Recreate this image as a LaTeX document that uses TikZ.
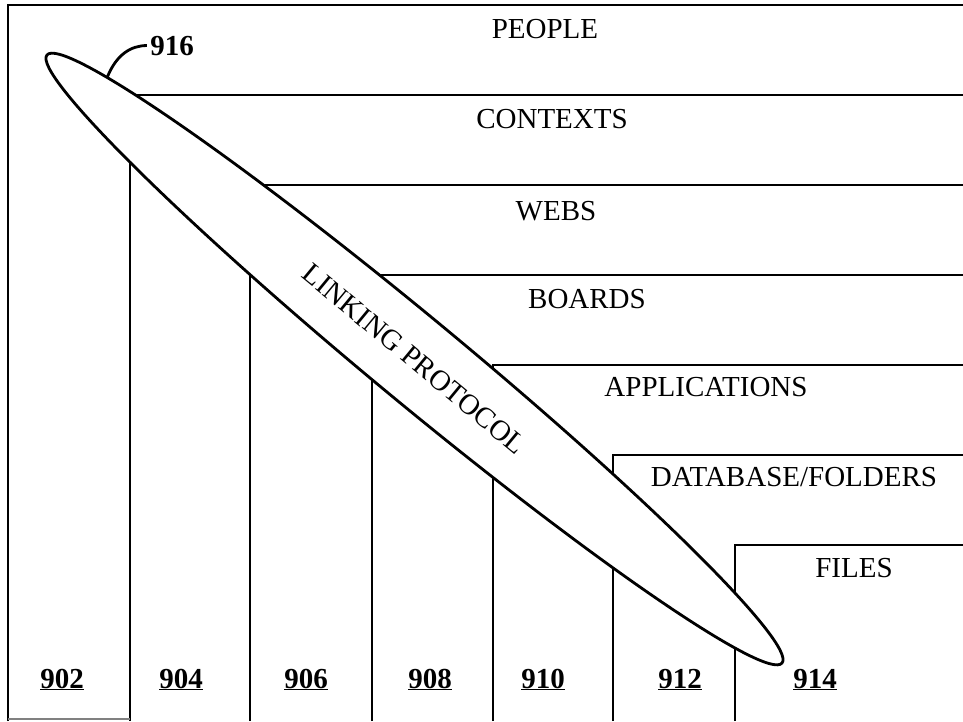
\documentclass[tikz,border=0pt]{standalone}
\usepackage{fontspec}
\setmainfont{Liberation Serif}
\usetikzlibrary{shapes.geometric}

\begin{document}
\begin{tikzpicture}[x=1pt, y=-1pt, line width=2.8pt]
    % Stili
    \tikzstyle{layer} = [font=\fontsize{29}{34}\selectfont, anchor=base, inner sep=2pt]
    \tikzstyle{ref} = [font=\fontsize{29}{34}\selectfont\bfseries, anchor=base, inner sep=2pt]
    \tikzstyle{link} = [draw, ellipse, fill=white, rotate=-39.6, minimum width=954pt, minimum height=86pt, inner sep=0pt, font=\fontsize{29}{34}\selectfont]

    \useasboundingbox (0,0) rectangle (963,721);

    % Livelli
    \draw (8,721) |- (963,5);
    \draw (130,721) |- (963,95);
    \draw (250,721) |- (963,185);
    \draw (372,721) |- (963,275);
    \draw (493,721) |- (963,365);
    \draw (613,721) |- (963,455);
    \draw (735,721) |- (963,545);
    \draw [gray, line width=1.5pt] (8,719) -- (130,719);

    % Nomi dei livelli
    \node [layer] (people) at (545,38) {PEOPLE};
    \node [layer] (contexts) at (552,128) {CONTEXTS};
    \node [layer] (webs) at (556,220) {WEBS};
    \node [layer] (boards) at (587,308) {BOARDS};
    \node [layer] (apps) at (706,396) {APPLICATIONS};
    \node [layer] (dbfolders) at (794,486) {DATABASE/FOLDERS};
    \node [layer] (files) at (854,577) {FILES};

    % Numeri
    \node [ref] (n902) at (62,688) {\underline{902}};
    \node [ref] (n904) at (181,688) {\underline{904}};
    \node [ref] (n906) at (306,688) {\underline{906}};
    \node [ref] (n908) at (430,688) {\underline{908}};
    \node [ref] (n910) at (543,688) {\underline{910}};
    \node [ref] (n912) at (680,688) {\underline{912}};
    \node [ref] (n914) at (815,688) {\underline{914}};

    % Protocollo
    \node [link] (link) at (414.5,359) {LINKING PROTOCOL};
    \node [ref] (n916) at (172,55) {916};
    \draw (link.177.5) .. controls +(9,-22) and +(-16,0) .. (n916.west);
\end{tikzpicture}
\end{document}
